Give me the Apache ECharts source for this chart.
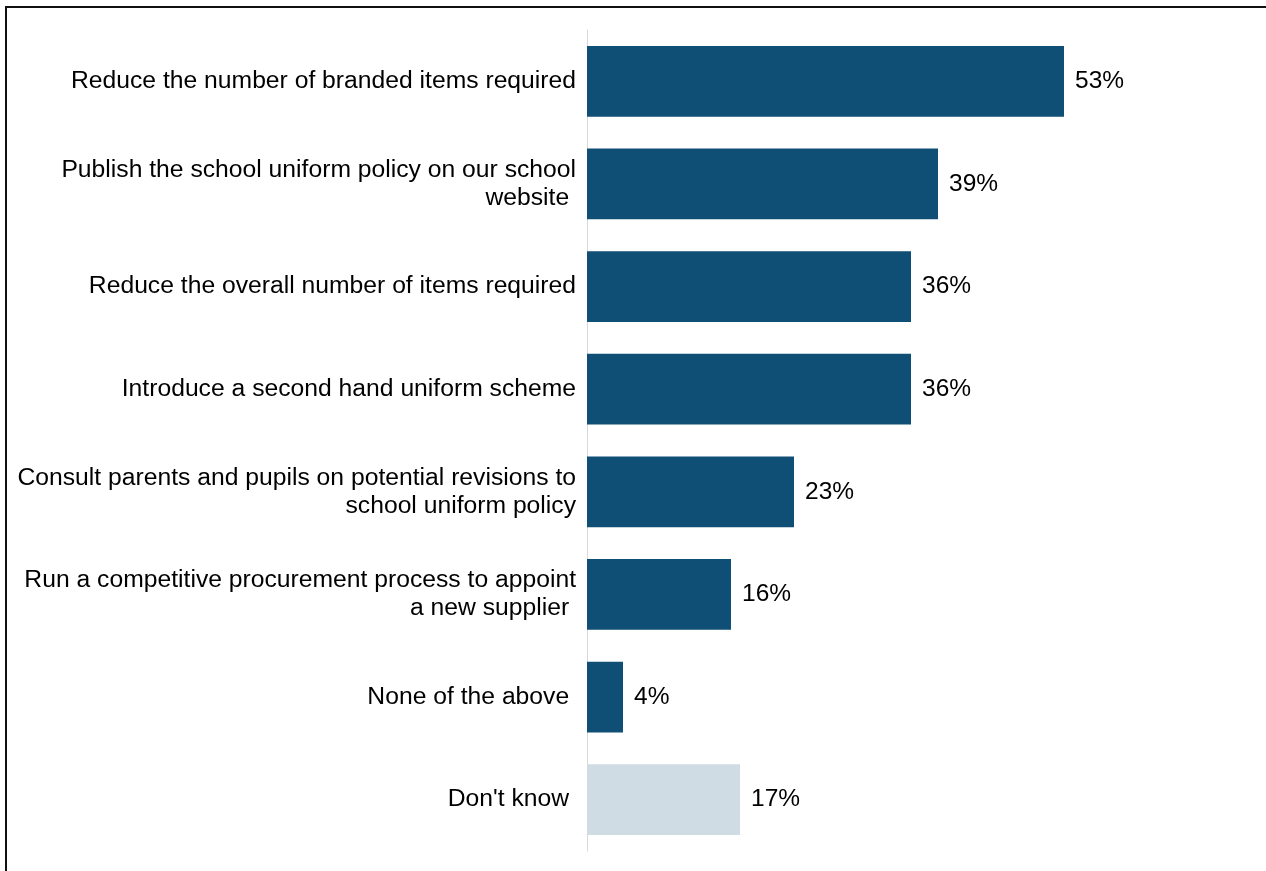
<!DOCTYPE html>
<html>
<head>
<meta charset="utf-8">
<script src="https://cdn.jsdelivr.net/npm/echarts@6/dist/echarts.min.js"></script>
<style>
html,body{margin:0;padding:0;background:#fff;}
#frame{position:absolute;left:5px;top:6px;width:1400px;height:1000px;border:2px solid #111;box-sizing:border-box;}
#chart{position:absolute;left:0;top:0;width:1266px;height:871px;}
</style>
</head>
<body>
<div id="frame"></div>
<div id="chart"></div>
<script>
const categories = [
  "Reduce the number of branded items required",
  "Publish the school uniform policy on our school\nwebsite ",
  "Reduce the overall number of items required",
  "Introduce a second hand uniform scheme",
  "Consult parents and pupils on potential revisions to\nschool uniform policy",
  "Run a competitive procurement process to appoint\na new supplier ",
  "None of the above ",
  "Don't know "
];
const values = [53, 39, 36, 36, 23, 16, 4, 17];
const barColors = ["#104f75","#104f75","#104f75","#104f75","#104f75","#104f75","#104f75","#cfdce4"];

const chart = echarts.init(document.getElementById('chart'), null, {renderer:'canvas'});
chart.setOption({
  animation:false,
  backgroundColor:'transparent',
  grid:{left:587, top:30, height:821, width:540, containLabel:false},
  xAxis:{type:'value', min:0, max:60, show:false, splitLine:{show:false}},
  yAxis:{
    type:'category', data:categories, inverse:true,
    axisLine:{show:true, lineStyle:{color:'#d9d9d9', width:1}},
    axisTick:{show:false},
    axisLabel:{color:'#000', fontFamily:'Liberation Sans, Arial, sans-serif', fontSize:24.7, lineHeight:28, margin:11, align:'right'}
  },
  series:[{
    type:'bar',
    data:values.map((v,i)=>({value:v, itemStyle:{color:barColors[i]}})),
    barWidth:'69%',
    label:{show:true, position:'right', distance:11, formatter:'{c}%', color:'#000', fontFamily:'Liberation Sans, Arial, sans-serif', fontSize:24.5}
  }]
});
</script>
</body>
</html>
